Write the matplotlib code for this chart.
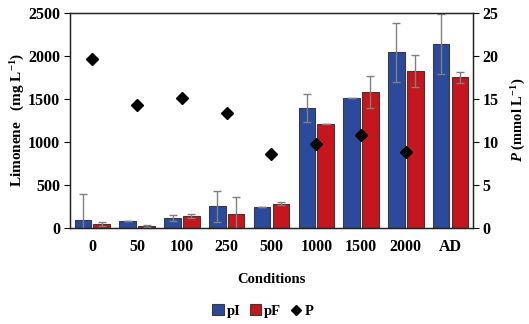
import numpy as np
import matplotlib

matplotlib.use("Agg")
import matplotlib.pyplot as plt
from matplotlib.lines import Line2D
from matplotlib.patches import Patch

conditions = ["0", "50", "100", "250", "500", "1000", "1500", "2000", "AD"]
limonene_pI = [89, 74, 112, 248, 236, 1397, 1505, 2038, 2136]
limonene_pI_err = [300, 0, 35, 178, 0, 163, 0, 338, 350]
limonene_pF = [47, 19, 132, 155, 280, 1206, 1575, 1824, 1751]
limonene_pF_err = [23, 8, 23, 202, 20, 0, 187, 187, 62]
productivity_P = [19.6, 14.3, 15.1, 13.3, 8.6, 9.7, 10.8, 8.8, np.nan]

plt.rcParams["font.family"] = ["Liberation Serif", "DejaVu Serif"]
plt.rcParams["font.weight"] = "bold"
plt.rcParams["mathtext.fontset"] = "custom"
plt.rcParams["mathtext.rm"] = "Liberation Serif:bold"
plt.rcParams["mathtext.bf"] = "Liberation Serif:bold"
plt.rcParams["mathtext.it"] = "Liberation Serif:bold:italic"

blue = "#2c4a9b"
red = "#c4161c"
edge = "#3a3a3a"
err_color = "#808080"

fig = plt.figure(figsize=(5.29, 3.24), dpi=100)
ax = fig.add_axes([0.1323, 0.297, 0.7618, 0.6636])
ax2 = ax.twinx()

x = np.arange(len(conditions))
w = 0.37
off = 0.21
ax.bar(x - off, limonene_pI, w, color=blue, edgecolor=edge, linewidth=0.8, zorder=2)
ax.bar(x + off, limonene_pF, w, color=red, edgecolor=edge, linewidth=0.8, zorder=2)
ax.errorbar(x - off, limonene_pI, yerr=limonene_pI_err, fmt="none",
            ecolor=err_color, elinewidth=1.0, capsize=3, capthick=1.0, zorder=3)
ax.errorbar(x + off, limonene_pF, yerr=limonene_pF_err, fmt="none",
            ecolor=err_color, elinewidth=1.0, capsize=3, capthick=1.0, zorder=3)

ax2.plot(x, productivity_P, linestyle="none", marker="D", markersize=6,
         color="black", zorder=4)

ax.set_xlim(-0.5, len(conditions) - 0.5)
ax.set_ylim(0, 2500)
ax2.set_ylim(0, 25)
ax.set_yticks(np.arange(0, 2501, 500))
ax2.set_yticks(np.arange(0, 26, 5))
ax.set_xticks(x)
ax.set_xticklabels(conditions)
ax.tick_params(axis="x", length=0, pad=8, labelsize=11.5)
ax.tick_params(axis="y", length=4, width=0.8, labelsize=11.5, pad=3)
ax2.tick_params(axis="y", length=4, width=0.8, labelsize=11.5, pad=3)

for a in (ax, ax2):
    for s in a.spines.values():
        s.set_linewidth(0.9)
        s.set_color("#222222")

ax.set_xlabel("Conditions", fontsize=10.5, fontweight="bold", labelpad=13)
ax.set_ylabel(r"Limonene   (mg L$^{-1}$)", fontsize=11, fontweight="bold", labelpad=1)
ax2.set_ylabel(r"$\mathit{P}$ (mmol L$^{-1}$)", fontsize=10.5, fontweight="bold", labelpad=8)

handles = [
    Patch(facecolor=blue, edgecolor=edge, linewidth=0.8),
    Patch(facecolor=red, edgecolor=edge, linewidth=0.8),
    Line2D([], [], linestyle="none", marker="D", color="black", markersize=5),
]
fig.legend(handles, ["pI", "pF", "P"], loc="center", bbox_to_anchor=(0.497, 0.04),
           ncol=3, frameon=False, handlelength=0.8, handleheight=0.8,
           handletextpad=0.2, columnspacing=0.6, prop={"weight": "bold", "size": 10.5})

fig.savefig("out.png", dpi=100)
